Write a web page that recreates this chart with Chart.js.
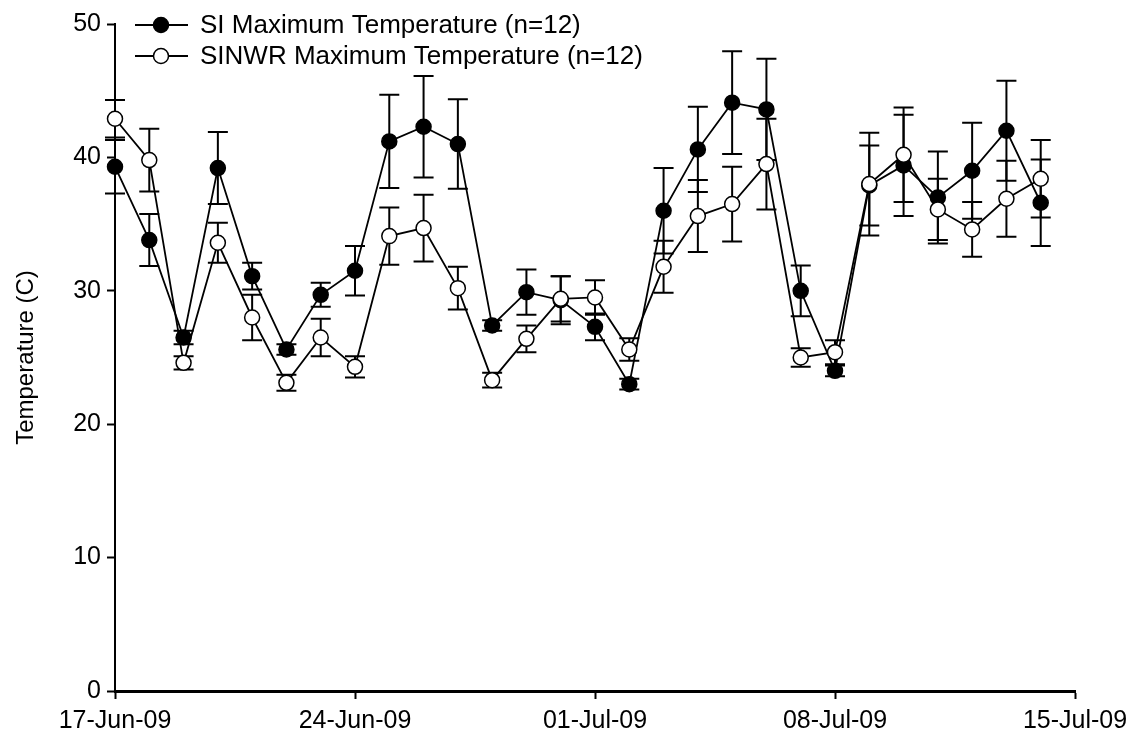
<!DOCTYPE html>
<html>
<head>
<meta charset="utf-8">
<title>Maximum Temperature</title>
<script src="https://cdn.jsdelivr.net/npm/chart.js@4.4.0/dist/chart.umd.min.js"></script>
<style>
  html, body { margin: 0; padding: 0; background: #fff; }
  #wrap { width: 1128px; height: 746px; }
</style>
</head>
<body>
<div id="wrap"><canvas id="tempChart" width="1128" height="746"></canvas></div>
<script>
// one reading per day, 17-Jun-09 .. 14-Jul-09
const dates = [
  "17-Jun", "18-Jun", "19-Jun", "20-Jun", "21-Jun", "22-Jun", "23-Jun",
  "24-Jun", "25-Jun", "26-Jun", "27-Jun", "28-Jun", "29-Jun", "30-Jun",
  "01-Jul", "02-Jul", "03-Jul", "04-Jul", "05-Jul", "06-Jul", "07-Jul",
  "08-Jul", "09-Jul", "10-Jul", "11-Jul", "12-Jul", "13-Jul", "14-Jul"
];
const tickLabels = ["17-Jun-09", "24-Jun-09", "01-Jul-09", "08-Jul-09", "15-Jul-09"];

const siMax = [
  39.3, 33.8, 26.5, 39.2, 31.1, 25.6, 29.7, 31.5, 41.2, 42.3, 41.0, 27.4, 29.9, 29.3,
  27.3, 23.0, 36.0, 40.6, 44.1, 43.6, 30.0, 24.0, 37.9, 39.4, 37.0, 39.0, 42.0, 36.6
];
const siErr = [
  2.0, 1.95, 0.5, 2.7, 1.0, 0.4, 0.9, 1.85, 3.5, 3.8, 3.35, 0.4, 1.7, 1.8,
  1.0, 0.4, 3.2, 3.2, 3.85, 3.8, 1.9, 0.4, 3.0, 3.8, 3.45, 3.6, 3.75, 3.25
];
const sinwrMax = [
  42.9, 39.8, 24.6, 33.6, 28.0, 23.1, 26.5, 24.3, 34.1, 34.7, 30.2, 23.3, 26.4, 29.4,
  29.5, 25.6, 31.8, 35.6, 36.5, 39.5, 25.0, 25.4, 38.0, 40.2, 36.1, 34.6, 36.9, 38.4
];
const sinwrErr = [
  1.4, 2.35, 0.5, 1.5, 1.7, 0.6, 1.4, 0.8, 2.15, 2.5, 1.6, 0.55, 1.0, 1.7,
  1.3, 0.85, 1.95, 2.7, 2.8, 3.4, 0.7, 0.9, 3.85, 3.55, 2.3, 2.05, 2.85, 2.9
];

const FONT = "'Liberation Sans', Arial, sans-serif";

function toPoints(values) {
  return values.map((v, i) => ({ x: i, y: v }));
}

// vertical error bars with caps, drawn under the lines and markers
const errorBars = {
  id: "errorBars",
  beforeDatasetsDraw(chart) {
    const ctx = chart.ctx;
    const yScale = chart.scales.y;
    chart.data.datasets.forEach((ds, i) => {
      const meta = chart.getDatasetMeta(i);
      ctx.save();
      ctx.strokeStyle = "#000";
      ctx.lineWidth = 2;
      meta.data.forEach((pt, j) => {
        const v = ds.data[j].y;
        const e = ds.errors[j];
        const top = yScale.getPixelForValue(v + e);
        const bot = yScale.getPixelForValue(v - e);
        ctx.beginPath();
        ctx.moveTo(pt.x, top);
        ctx.lineTo(pt.x, bot);
        ctx.moveTo(pt.x - 10, top);
        ctx.lineTo(pt.x + 10, top);
        ctx.moveTo(pt.x - 10, bot);
        ctx.lineTo(pt.x + 10, bot);
        ctx.stroke();
      });
      ctx.restore();
    });
  }
};

// legend in the top-left corner, line + marker like the original
const cornerLegend = {
  id: "cornerLegend",
  afterDraw(chart) {
    const ctx = chart.ctx;
    const left = chart.chartArea.left;
    const rows = [chart.data.datasets[1], chart.data.datasets[0]];
    ctx.save();
    ctx.font = "26px " + FONT;
    ctx.textBaseline = "middle";
    rows.forEach((ds, k) => {
      const y = 25 + k * 31;
      ctx.strokeStyle = "#000";
      ctx.lineWidth = 2;
      ctx.beginPath();
      ctx.moveTo(left + 20, y);
      ctx.lineTo(left + 73, y);
      ctx.stroke();
      ctx.beginPath();
      ctx.arc(left + 46, y, 7.5, 0, Math.PI * 2);
      ctx.fillStyle = ds.pointBackgroundColor;
      ctx.fill();
      ctx.lineWidth = 1.5;
      ctx.stroke();
      ctx.fillStyle = "#000";
      ctx.fillText(ds.label, left + 85, y + 1);
    });
    ctx.restore();
  }
};

const ctx = document.getElementById("tempChart").getContext("2d");
new Chart(ctx, {
  type: "line",
  data: {
    datasets: [
      {
        label: "SINWR Maximum Temperature (n=12)",
        data: toPoints(sinwrMax),
        errors: sinwrErr,
        borderColor: "#000",
        borderWidth: 1.8,
        pointRadius: 7.5,
        pointBorderWidth: 1.5,
        pointBackgroundColor: "#fff",
        pointBorderColor: "#000",
        clip: false,
        order: 0,
      },
      {
        label: "SI Maximum Temperature (n=12)",
        data: toPoints(siMax),
        errors: siErr,
        borderColor: "#000",
        borderWidth: 1.8,
        pointRadius: 7.5,
        pointBorderWidth: 1.5,
        pointBackgroundColor: "#000",
        pointBorderColor: "#000",
        clip: false,
        order: 1,
      },
    ],
  },
  options: {
    responsive: false,
    animation: false,
    layout: { padding: { left: 0, top: 24, right: 53, bottom: 0 } },
    plugins: {
      legend: { display: false },
      tooltip: { enabled: false },
    },
    scales: {
      x: {
        type: "linear",
        min: 0,
        max: 28,
        afterFit: (scale) => {
          scale.height = 55;
          scale.paddingLeft = 0;
          scale.paddingRight = 0;
        },
        afterBuildTicks: (scale) => {
          scale.ticks = tickLabels.map((t, i) => ({ value: i * 7 }));
        },
        ticks: {
          callback: (value) => tickLabels[value / 7],
          color: "#000",
          font: { family: FONT, size: 25 },
          padding: 7,
          maxRotation: 0,
          autoSkip: false,
        },
        grid: { drawOnChartArea: false, tickLength: 8, tickColor: "#000", tickWidth: 2 },
        border: { color: "#000", width: 3 },
      },
      y: {
        min: 0,
        max: 50,
        afterFit: (scale) => { scale.width = 115; },
        ticks: {
          stepSize: 10,
          color: "#000",
          font: { family: FONT, size: 25 },
          padding: 6,
        },
        grid: { drawOnChartArea: false, tickLength: 8, tickColor: "#000", tickWidth: 2 },
        border: { color: "#000", width: 2 },
        title: {
          display: true,
          text: "Temperature (C)",
          color: "#000",
          font: { family: FONT, size: 24 },
          padding: { top: 12, bottom: 0 },
        },
      },
    },
  },
  plugins: [errorBars, cornerLegend],
});
</script>
</body>
</html>
